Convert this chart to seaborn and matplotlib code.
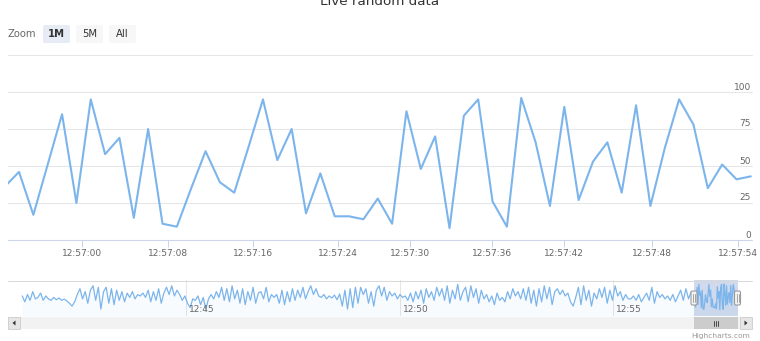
import numpy as np
import pandas as pd
import matplotlib
matplotlib.use("Agg")
import matplotlib.pyplot as plt
import seaborn as sns
from matplotlib import transforms
from matplotlib.patches import Rectangle, FancyBboxPatch, Polygon
from matplotlib.lines import Line2D

W, H = 760, 341

# Live points shown in the main view (one every ~1.2 s)
live_values = [36, 46, 17, 51, 85, 25, 95, 58, 69, 15, 75, 11, 9, 35, 60, 39, 32,
               63, 95, 54, 75, 18, 45, 16, 16, 14, 28, 11, 87, 48, 70, 8, 84, 95,
               26, 9, 96, 66, 23, 90, 27, 53, 66, 32, 91, 23, 62, 95, 78, 35, 51,
               41, 43]

# Ordinal x axis: tick positions given in point index units
xtick_positions = [5.39, 11.38, 17.31, 23.23, 28.25, 33.96, 38.98, 45.11, 51.11]
xtick_labels = ["12:57:00", "12:57:08", "12:57:16", "12:57:24", "12:57:30",
                "12:57:36", "12:57:42", "12:57:48", "12:57:54"]
ytick_values = [0, 25, 50, 75, 100]

# Older history (grouped) shown only in the navigator
history_values = [
    55, 35, 60, 40, 70, 45, 50, 65, 40, 55, 45, 40, 50, 42, 48, 40, 44, 38, 30, 20,
    35, 60, 80, 45, 70, 30, 75, 90, 40, 85, 10, 70, 85, 30, 80, 25, 75, 40, 70, 35,
    65, 50, 70, 45, 60, 55, 65,
    50, 75, 35, 70, 40, 80, 30, 65, 85, 60, 90, 55, 75, 60, 40, 55, 30, 15, 45, 40,
    55, 25, 50, 10, 45, 60, 45, 70, 50, 85, 40, 80, 35, 90, 45, 75, 30, 80, 25, 70,
    40, 85, 30, 65, 70, 45, 85, 35, 60, 50,
    60, 30, 75, 25, 70, 35, 80, 40, 75, 50, 85, 45, 70, 90, 60, 80, 55, 50, 60, 45,
    55, 48, 58, 42, 62, 20, 75, 10, 80, 15, 85, 30, 85, 60, 80, 30, 70, 20, 75, 90,
    55, 85, 40, 70, 55, 65, 45, 60, 50,
    55, 40, 65, 35, 70, 45, 75, 30, 80, 50, 70, 40, 85, 55, 80, 40, 90, 30, 75, 45,
    95, 40, 70, 85, 35, 90, 50, 80, 30, 75, 45, 60, 35, 55, 25, 65, 40, 50, 35, 70,
    45, 80, 55,
    70, 45, 80, 40, 85, 30, 75, 20, 80, 35, 90, 45, 85, 25, 70, 80, 60, 75, 55, 65,
    35, 20, 50, 85, 25, 90, 40, 75, 20, 65, 45, 80, 50, 85, 30, 75, 40, 90, 55, 70,
    40, 60, 45,
    45, 55, 40, 60, 35, 50, 65, 40, 85, 30, 70, 50, 60, 45, 55, 40, 60, 35, 55, 75,
    40, 80, 45, 70,
]
history_start = -831.0          # seconds relative to 12:55:00 (12:41:09)
first_tick_seconds = 120.0      # 12:57:00 relative to 12:55:00
last_tick_seconds = 174.0       # 12:57:54

nav_tick_seconds = [-600, -300, 0]
nav_tick_labels = ["12:45", "12:50", "12:55"]
range_buttons = ["1M", "5M", "All"]

LINE = "#7cb5ec"
GRID = "#e6e6e6"
AXIS = "#ccd6eb"
LABEL = "#666666"
TEXT = "#333333"

sns.set_theme(style="white")
plt.rcParams["font.family"] = ["DejaVu Sans"]

fig = plt.figure(figsize=(W / 100, H / 100), dpi=100)
fig.patch.set_facecolor("white")
PIX = transforms.IdentityTransform()


def box(x0, y0, x1, y1):
    """Pixel box measured from the top-left corner -> figure rect."""
    return [x0 / W, 1 - y1 / H, (x1 - x0) / W, (y1 - y0) / H]


def prect(x0, y0, x1, y1, **kw):
    fig.add_artist(Rectangle((x0, H - y1), x1 - x0, y1 - y0, transform=PIX, **kw))


def pline(x0, y0, x1, y1, **kw):
    fig.add_artist(Line2D([x0, x1], [H - y0, H - y1], transform=PIX, **kw))


# ---------------------------------------------------------------- main chart
ax = fig.add_axes(box(8, 55, 752, 240))
live = pd.DataFrame({"point": np.arange(len(live_values)), "value": live_values})
sns.lineplot(data=live, x="point", y="value", ax=ax, color=LINE, linewidth=1.5,
             zorder=3)
x_lo, x_hi = 0.233, 52.08
ax.set_xlim(x_lo, x_hi)
ax.set_ylim(0, 125)
for v in range(0, 126, 25):
    ax.axhline(v, color=GRID, lw=0.75, zorder=0, clip_on=False)
ax.axhline(0, color=AXIS, lw=0.75, zorder=1, clip_on=False)
for s in ax.spines.values():
    s.set_visible(False)
ax.set_xticks(xtick_positions, xtick_labels)
ax.set_yticks([])
ax.tick_params(axis="x", bottom=True, length=5, width=0.75, color=AXIS,
               labelcolor=LABEL, labelsize=6.5, pad=1.5)
ax.set_xlabel("")
ax.set_ylabel("")
ylab_tr = transforms.offset_copy(ax.get_yaxis_transform(), fig=fig, x=-1, y=2.5,
                                 units="dots")
for v in ytick_values:
    ax.text(1, v, str(v), transform=ylab_tr, ha="right", va="baseline",
            fontsize=6.5, color=LABEL)

# ---------------------------------------------------------------- navigator
step = (last_tick_seconds - first_tick_seconds) / (xtick_positions[-1] - xtick_positions[0])


def point_time(i):
    return first_tick_seconds + (np.asarray(i, dtype=float) - xtick_positions[0]) * step


live_times = point_time(np.arange(len(live_values)))
hist_times = np.linspace(history_start, live_times[0], len(history_values) + 1)[:-1]
nav_df = pd.DataFrame({
    "t": np.concatenate([hist_times, live_times]),
    "value": np.concatenate([history_values, live_values]),
})

nav = fig.add_axes(box(8, 280, 752, 316))
nav_lo, nav_hi = -851.0, 195.5
nav_ymin, nav_ymax = -14, 110
nav.set_xlim(nav_lo, nav_hi)
nav.set_ylim(nav_ymin, nav_ymax)
for t in nav_tick_seconds:
    nav.axvline(t, color=GRID, lw=0.75, zorder=0)
nav.fill_between(nav_df["t"], nav_df["value"], nav_ymin, color=LINE, alpha=0.05, lw=0)
sns.lineplot(data=nav_df, x="t", y="value", ax=nav, color=LINE, linewidth=0.9,
             zorder=3)
sel_lo, sel_hi = float(point_time(x_lo)), float(point_time(x_hi))
nav.axvspan(sel_lo, sel_hi, color="#6685c2", alpha=0.3, lw=0, zorder=2)
for s in nav.spines.values():
    s.set_visible(False)
nav.set_xticks([])
nav.set_yticks([])
nav.set_xlabel("")
nav.set_ylabel("")
navlab_tr = transforms.offset_copy(nav.get_xaxis_transform(), fig=fig, x=3, y=0,
                                   units="dots")
for t, lab in zip(nav_tick_seconds, nav_tick_labels):
    nav.text(t, 0.175, lab, transform=navlab_tr, ha="left", va="center",
             fontsize=6.5, color=LABEL, zorder=4)
pline(8, 280.5, 752, 280.5, color="#d9d9d9", lw=0.75)


def sec_to_px(t):
    return 8 + (t - nav_lo) / (nav_hi - nav_lo) * 744


# selection handles
for t in (sel_lo, sel_hi):
    cx = sec_to_px(t)
    fig.add_artist(FancyBboxPatch((cx - 3, H - 305), 6, 14,
                                  boxstyle="round,pad=0,rounding_size=1.5",
                                  transform=PIX, facecolor="#f2f2f2",
                                  edgecolor="#999999", lw=0.75, zorder=5))
    for dx in (-1, 1):
        pline(cx + dx, 294, cx + dx, 302, color="#999999", lw=0.6, zorder=6)

# ---------------------------------------------------------------- scrollbar
prect(8, 317, 752, 329, facecolor="#f2f2f2", edgecolor="none")
x0p, x1p = sec_to_px(sel_lo), sec_to_px(sel_hi)
prect(x0p, 317, x1p, 329, facecolor="#cccccc", edgecolor="none")
mid = (x0p + x1p) / 2
for dx in (-2, 0, 2):
    pline(mid + dx, 320.5, mid + dx, 325.5, color="#333333", lw=0.6)
for bx in (8, 740):
    prect(bx, 317, bx + 12, 329, facecolor="#e6e6e6", edgecolor="#cccccc", lw=0.6)
fig.add_artist(Polygon([(15.5, H - 320.5), (15.5, H - 325.5), (12.5, H - 323)],
                       closed=True, transform=PIX, facecolor="#333333", lw=0))
fig.add_artist(Polygon([(744.5, H - 320.5), (744.5, H - 325.5), (747.5, H - 323)],
                       closed=True, transform=PIX, facecolor="#333333", lw=0))

# ---------------------------------------------------------------- title, range selector, credits
fig.text(380 / W, 1 - 5 / H, "Live random data", ha="center", va="baseline",
         fontsize=9.7, color=TEXT)
fig.text(8 / W, 1 - 34 / H, "Zoom", ha="left", va="center", fontsize=7.2,
         color=LABEL)
button_x = [(43, 70), (76, 103), (109, 136)]
for (bx0, bx1), lab in zip(button_x, range_buttons):
    selected = lab == "1M"
    fig.add_artist(FancyBboxPatch((bx0, H - 43), bx1 - bx0, 18,
                                  boxstyle="round,pad=0,rounding_size=2",
                                  transform=PIX,
                                  facecolor="#e6ebf5" if selected else "#f7f7f7",
                                  edgecolor="none"))
    fig.text((bx0 + bx1) / 2 / W, 1 - 34 / H, lab, ha="center", va="center",
             fontsize=7.2, color=TEXT, fontweight="bold" if selected else "normal")
fig.text(750 / W, 1 - 336 / H, "Highcharts.com", ha="right", va="center",
         fontsize=5.4, color="#999999")

fig.savefig("out.png", dpi=100)
